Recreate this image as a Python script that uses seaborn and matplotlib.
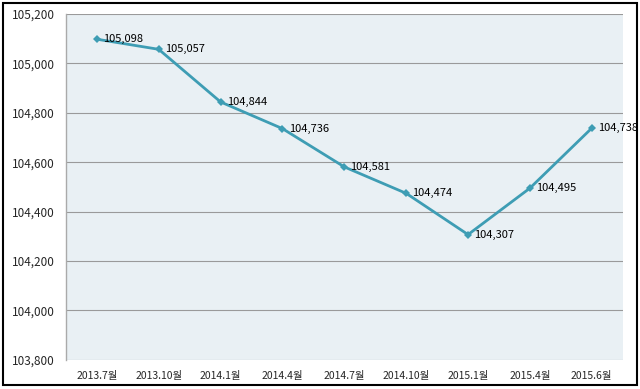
import numpy as np
import pandas as pd
import matplotlib
matplotlib.use("Agg")
import matplotlib.pyplot as plt
import seaborn as sns
from matplotlib.patches import Rectangle
from matplotlib.ticker import FuncFormatter, MultipleLocator

periods = ["2013.7월", "2013.10월", "2014.1월", "2014.4월", "2014.7월",
           "2014.10월", "2015.1월", "2015.4월", "2015.6월"]
values = [105098, 105057, 104844, 104736, 104581, 104474, 104307, 104495, 104738]

sns.set_theme(style="white")
plt.rcParams['font.family'] = ['Noto Sans CJK KR', 'DejaVu Sans']

df = pd.DataFrame({"period": periods, "value": values})
df["x"] = np.arange(len(df))

line_color = "#3E9DB4"

fig = plt.figure(figsize=(6.4, 3.89), dpi=100)
ax = fig.add_axes([0.103, 0.075, 0.870, 0.889])
ax.set_facecolor("#E9F0F4")

sns.lineplot(data=df, x="x", y="value", ax=ax, color=line_color, linewidth=2,
             marker="D", markersize=4, markeredgewidth=0)

for xi, v in zip(df["x"], df["value"]):
    ax.text(xi + 0.1, v, f"{v:,}", fontsize=8, va="center", ha="left", color="black")

ax.set_xlim(-0.5, len(df) - 0.5)
ax.set_ylim(103800, 105200)
ax.yaxis.set_major_locator(MultipleLocator(200))
ax.yaxis.set_major_formatter(FuncFormatter(lambda v, p: f"{int(v):,}"))
ax.grid(axis="y", color="#9A9A9A", linewidth=0.8)
ax.set_axisbelow(True)

ax.set_xticks(df["x"])
ax.set_xticklabels(df["period"], fontsize=7.5)
ax.set_xticks(np.arange(-0.5, len(df), 1), minor=True)
ax.tick_params(axis="x", which="major", length=0, pad=8)
ax.tick_params(axis="x", which="minor", length=3, color="#888888", direction="out")
ax.tick_params(axis="y", labelsize=8.5, length=0, pad=8)

ax.set_xlabel("")
ax.set_ylabel("")
for s in ["top", "right", "bottom"]:
    ax.spines[s].set_visible(False)
ax.spines["left"].set_color("#AAAAAA")
ax.spines["left"].set_linewidth(1)

fig.patches.append(Rectangle((0.004, 0.01), 0.991, 0.982, transform=fig.transFigure,
                             fill=False, edgecolor="black", linewidth=1.5))

fig.savefig("out.png", dpi=100)
